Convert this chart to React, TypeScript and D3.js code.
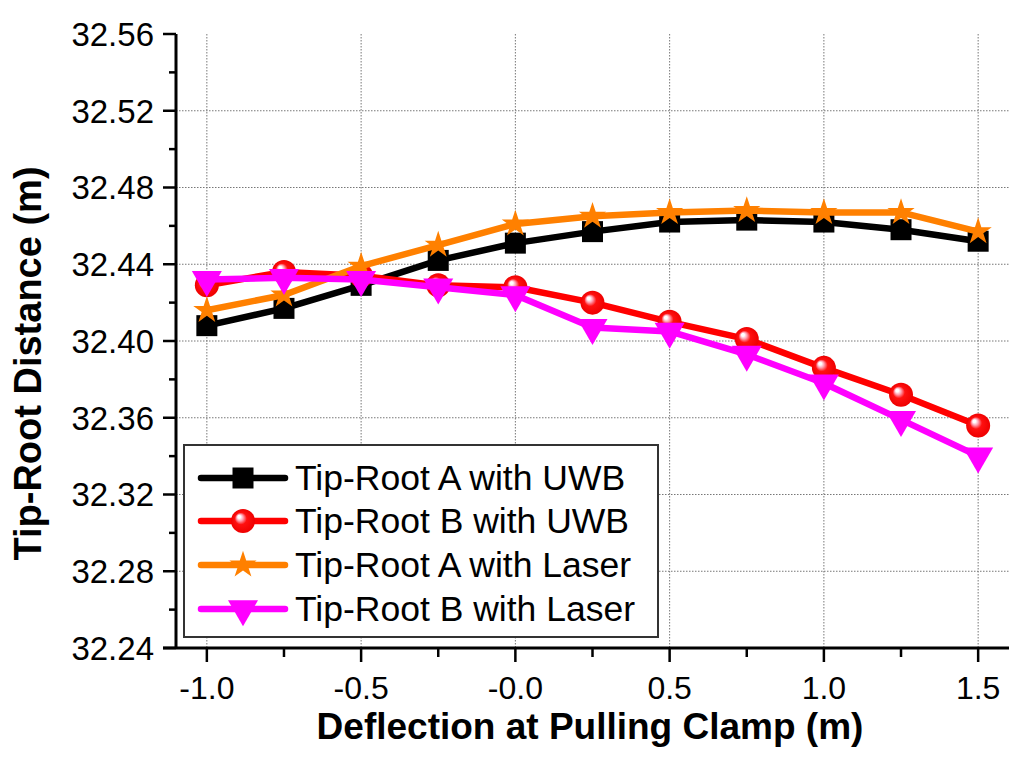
import * as d3 from 'd3';

// deflection at pulling clamp (m)
const deflection = [-1.0, -0.75, -0.5, -0.25, 0.0, 0.25, 0.5, 0.75, 1.0, 1.25, 1.5];

// tip-root distance (m)
const rootA_UWB = [32.408, 32.417, 32.429, 32.442, 32.451, 32.457, 32.462, 32.463, 32.462, 32.458, 32.452];
const rootB_UWB = [32.429, 32.436, 32.434, 32.429, 32.428, 32.420, 32.410, 32.401, 32.386, 32.372, 32.356];
const rootA_Laser = [32.416, 32.424, 32.439, 32.450, 32.461, 32.465, 32.467, 32.468, 32.467, 32.467, 32.457];
const rootB_Laser = [32.432, 32.433, 32.432, 32.428, 32.424, 32.407, 32.405, 32.393, 32.378, 32.359, 32.340];

const seriesNames = ['Tip-Root A with UWB', 'Tip-Root B with UWB', 'Tip-Root A with Laser', 'Tip-Root B with Laser'];
const seriesColors = ['#000000', '#ff0000', '#ff8000', '#ff00ff'];
const seriesMarkers = ['square', 'circle', 'star', 'triangle'];

const xTicks = [-1.0, -0.5, 0.0, 0.5, 1.0, 1.5];
const xTickLabels = ['-1.0', '-0.5', '-0.0', '0.5', '1.0', '1.5'];
const xMinorTicks = [-0.75, -0.25, 0.25, 0.75, 1.25];
const yTicks = [32.24, 32.28, 32.32, 32.36, 32.40, 32.44, 32.48, 32.52, 32.56];
const yMinorTicks = [32.26, 32.30, 32.34, 32.38, 32.42, 32.46, 32.50, 32.54];

const W = 1024;
const H = 771;
const left = 176;
const right = 1009;
const top = 34;
const bottom = 648;
const font = '"Liberation Sans", Arial, sans-serif';

const x = d3.scaleLinear().domain([-1.1, 1.6]).range([left, right]);
const y = d3.scaleLinear().domain([32.24, 32.56]).range([bottom, top]);

const squarePath = d3.symbol(d3.symbolSquare, 441)()!;
const starPath = d3.symbol(d3.symbolStar, 230)()!;
const trianglePath = d3.symbol(d3.symbolTriangle, 390)()!;

function Marker({ kind, color, cx, cy }: { kind: string; color: string; cx: number; cy: number }) {
  if (kind === 'circle') {
    return <circle cx={cx} cy={cy} r={12} fill="url(#ball)" />;
  }
  if (kind === 'triangle') {
    return <path d={trianglePath} fill={color} transform={`translate(${cx},${cy}) rotate(180)`} />;
  }
  const d = kind === 'square' ? squarePath : starPath;
  return <path d={d} fill={color} transform={`translate(${cx},${cy})`} />;
}

export default function App() {
  const allSeries = [rootA_UWB, rootB_UWB, rootA_Laser, rootB_Laser];
  const line = d3.line<number>()
    .x((_, i) => x(deflection[i]))
    .y(v => y(v));

  const legendX = 184;
  const legendY = 445;
  const legendRows = [478, 521, 565, 609];

  return (
    <svg width={W} height={H} viewBox={`0 0 ${W} ${H}`}
      style={{ position: 'absolute', left: 0, top: 0, background: '#fff' }}>
      <defs>
        <radialGradient id="ball" cx="0.5" cy="0.5" r="0.5" fx="0.32" fy="0.3">
          <stop offset="0%" stopColor="#ffffff" />
          <stop offset="12%" stopColor="#ffffff" />
          <stop offset="28%" stopColor="#ff9fb0" />
          <stop offset="50%" stopColor="#ff1010" />
          <stop offset="100%" stopColor="#ee0000" />
        </radialGradient>
      </defs>
      <rect width={W} height={H} fill="#fff" />

      {/* grid */}
      {yTicks.filter(t => t > 32.25 && t < 32.55).map(t => (
        <line key={'gy' + t} x1={left} x2={right} y1={y(t)} y2={y(t)}
          stroke="#777" strokeWidth={1} strokeDasharray="1.5,1.5" />
      ))}
      {xTicks.map(t => (
        <line key={'gx' + t} x1={x(t)} x2={x(t)} y1={top} y2={bottom}
          stroke="#777" strokeWidth={1} strokeDasharray="1.5,1.5" />
      ))}

      {/* series */}
      {allSeries.map((s, k) => (
        <g key={seriesNames[k]}>
          <path d={line(s)!} fill="none" stroke={seriesColors[k]} strokeWidth={6.5}
            strokeLinejoin="round" strokeLinecap="round" />
          {s.map((v, i) => (
            <Marker key={i} kind={seriesMarkers[k]} color={seriesColors[k]}
              cx={x(deflection[i])} cy={y(v)} />
          ))}
        </g>
      ))}

      {/* axes */}
      <line x1={left} x2={left} y1={top} y2={bottom} stroke="#000" strokeWidth={3} />
      <line x1={163} x2={right} y1={bottom} y2={bottom} stroke="#000" strokeWidth={3} />
      {yTicks.map(t => (
        <g key={'yt' + t}>
          <line x1={left - 13} x2={left} y1={y(t)} y2={y(t)} stroke="#000" strokeWidth={2.5} />
          <text x={154} y={y(t)} dy="0.36em" textAnchor="end" fontFamily={font} fontSize={33}>
            {t.toFixed(2)}
          </text>
        </g>
      ))}
      {yMinorTicks.map(t => (
        <line key={'ym' + t} x1={left - 7} x2={left} y1={y(t)} y2={y(t)} stroke="#000" strokeWidth={2.5} />
      ))}
      {xTicks.map((t, i) => (
        <g key={'xt' + t}>
          <line x1={x(t)} x2={x(t)} y1={bottom} y2={bottom + 14} stroke="#000" strokeWidth={2.5} />
          <text x={x(t)} y={699} textAnchor="middle" fontFamily={font} fontSize={32}>
            {xTickLabels[i]}
          </text>
        </g>
      ))}
      {xMinorTicks.map(t => (
        <line key={'xm' + t} x1={x(t)} x2={x(t)} y1={bottom} y2={bottom + 9} stroke="#000" strokeWidth={2.5} />
      ))}

      {/* axis titles */}
      <text x={590} y={739} textAnchor="middle" fontFamily={font} fontSize={37} fontWeight="bold">
        Deflection at Pulling Clamp (m)
      </text>
      <text transform={`translate(41,${(165 + 562) / 2}) rotate(-90)`} textAnchor="middle"
        fontFamily={font} fontSize={38} fontWeight="bold">
        Tip-Root Distance (m)
      </text>

      {/* legend */}
      <rect x={legendX} y={legendY} width={474} height={192} fill="#fff" stroke="#333" strokeWidth={2} />
      {seriesNames.map((name, k) => (
        <g key={'lg' + k}>
          <line x1={201} x2={285} y1={legendRows[k]} y2={legendRows[k]} stroke={seriesColors[k]}
            strokeWidth={6.5} strokeLinecap="round" />
          <Marker kind={seriesMarkers[k]} color={seriesColors[k]} cx={243} cy={legendRows[k]} />
          <text x={295} y={legendRows[k] + 12} fontFamily={font} fontSize={35.5}>{name}</text>
        </g>
      ))}
    </svg>
  );
}
